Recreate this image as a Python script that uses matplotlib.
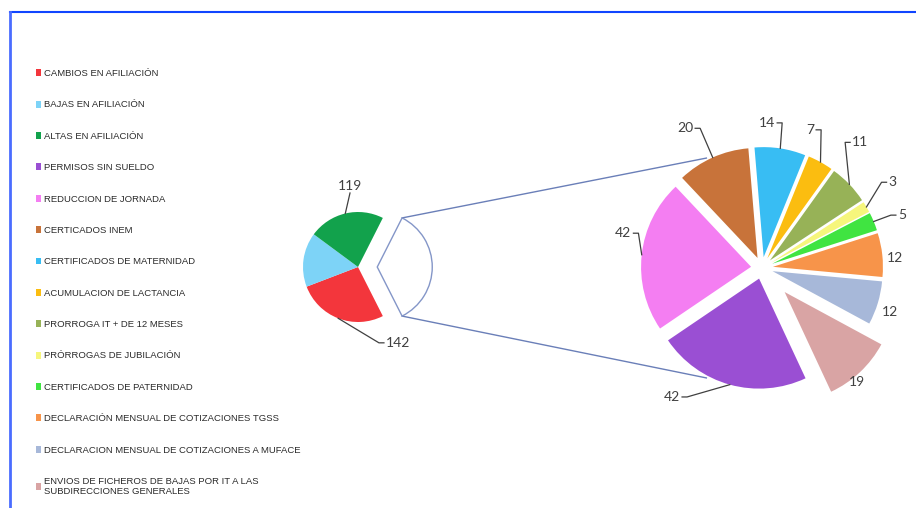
import numpy as np
import matplotlib.pyplot as plt

plt.rcParams['font.family'] = ['Liberation Sans', 'DejaVu Sans']

# ---------------------------------------------------------------- data
main_labels = ['CAMBIOS EN AFILIACIÓN', 'BAJAS EN AFILIACIÓN', 'ALTAS EN AFILIACIÓN']
main_values = [142, 85, 119]
main_colors = ['#f3363c', '#7dd3f7', '#12a24c']
main_show = [True, False, True]

sub_labels = ['PERMISOS SIN SUELDO', 'REDUCCION DE JORNADA', 'CERTICADOS INEM',
              'CERTIFICADOS DE MATERNIDAD', 'ACUMULACION DE LACTANCIA',
              'PRORROGA IT + DE 12 MESES', 'PRÓRROGAS DE JUBILACIÓN',
              'CERTIFICADOS DE PATERNIDAD', 'DECLARACIÓN MENSUAL DE COTIZACIONES TGSS',
              'DECLARACION MENSUAL DE COTIZACIONES A MUFACE',
              'ENVIOS DE FICHEROS DE BAJAS POR IT A LAS\nSUBDIRECCIONES GENERALES']
sub_values = [42, 42, 20, 14, 7, 11, 3, 5, 12, 12, 19]
sub_colors = ['#9a4fd3', '#f47ef2', '#c8733a', '#38bdf3', '#fbbd10', '#97b257',
              '#f6f67c', '#40e441', '#f7944a', '#a7b8d9', '#d9a4a4']
sub_explode = [0.1, 0.1, 0.1, 0.1, 0.1, 0.1, 0.1, 0.1, 0.1, 0.1, 0.3]

# label placement: (angle shift in degrees, distance as fraction of radius)
main_lab = [(49, 1.56), (0, 1.2), (-7.7, 1.48)]
sub_lab = [(-19.5, 1.43), (-7.8, 1.30), (4.8, 1.45), (6.7, 1.32), (9.7, 1.33),
           (8.2, 1.45), (3.0, 1.42), (-1.9, 1.36), (-2.0, 1.21), (-2.0, 1.23),
           (-3.5, 1.35)]

# ---------------------------------------------------------------- layout
W, H = 916, 508
fig = plt.figure(figsize=(W / 100, H / 100), dpi=100)
ax = fig.add_axes([0, 0, 1, 1])

c1, r1 = (358, 241), 55
c2, r2 = (762, 240), 110
lab_color = '#404040'

other = sum(sub_values)
vals = main_values + [other]
start = -other / sum(vals) * 360 / 2

w1, _ = ax.pie(vals, colors=main_colors + ['white'], startangle=start,
               counterclock=False, radius=r1, center=c1,
               explode=[0, 0, 0, 0.35 * r1])
w_other = w1[3]
w_other.set_facecolor('none')
w_other.set_edgecolor('#8496c8')
w_other.set_linewidth(1)

w2, _ = ax.pie(sub_values, colors=sub_colors, startangle=-65,
               counterclock=False, radius=r2, center=c2,
               explode=np.array(sub_explode) * r2)

ax.set_xlim(0, W)
ax.set_ylim(0, H)
ax.set_aspect('equal')
ax.axis('off')

leaders = []


def put_label(w, val, pc, R, expl, shift, f):
    tm = np.deg2rad((w.theta1 + w.theta2) / 2)
    edge = (w.center[0] + w.r * np.cos(tm), w.center[1] + w.r * np.sin(tm))
    ta = tm + np.deg2rad(shift)
    txt = (pc[0] + f * R * np.cos(ta), pc[1] + f * R * np.sin(ta))
    t = ax.text(txt[0], txt[1], str(val), ha='center', va='center',
                fontsize=10, color=lab_color, family=['Lato', 'DejaVu Sans'])
    if f - (1 + expl) > 0.15:
        leaders.append((t, edge))


for w, v, s, (sh, f) in zip(w1[:3], main_values, main_show, main_lab):
    if s:
        put_label(w, v, c1, r1, 0, sh, f)
for w, v, e, (sh, f) in zip(w2, sub_values, sub_explode, sub_lab):
    put_label(w, v, c2, r2, e, sh, f)

# leader lines: short horizontal stub at the label, then straight to the slice
fig.canvas.draw()
rend = fig.canvas.get_renderer()
for t, (ex, ey) in leaders:
    bb = t.get_window_extent(rend).transformed(ax.transData.inverted())
    tx, ty = t.get_position()
    hw = bb.width / 2
    if abs(ex - tx) < hw:
        y0 = bb.y0 - 1 if ey < ty else bb.y1 + 1
        ax.plot([tx, ex], [y0, ey], color=lab_color, lw=0.9)
    else:
        side = 1 if ex > tx else -1
        x0 = tx + side * (hw + 2)
        x1 = x0 + side * 5
        ax.plot([x0, x1, ex], [ty, ty, ey], color=lab_color, lw=0.9)

# connector lines between the two pies
for t in (w_other.theta1, w_other.theta2):
    a = np.deg2rad(t)
    b = np.deg2rad(180 - t)
    x0 = w_other.center[0] + r1 * np.cos(a)
    y0 = w_other.center[1] + r1 * np.sin(a)
    x1 = c2[0] + r2 * 1.12 * np.cos(b)
    y1 = c2[1] + r2 * 1.12 * np.sin(b)
    ax.plot([x0, x1], [y0, y1], color='#6a7fb8', lw=1, zorder=0)

# legend
ax.legend(list(w1[:3]) + list(w2), main_labels + sub_labels, loc='upper left',
          bbox_to_anchor=(36 / W, 1 - 69 / H), bbox_transform=fig.transFigure,
          frameon=False, fontsize=6.8, labelspacing=2.37, handlelength=0.55,
          handleheight=0.75, handletextpad=0.25, borderpad=0, borderaxespad=0,
          labelcolor='#2a2a2a')

# blue frame
ax.plot([10, W], [H - 12, H - 12], color='#1045ff', lw=1.5, clip_on=False)
ax.plot([10, 10], [0, H - 12], color='#4a6cff', lw=2, clip_on=False)

fig.savefig('out.png', dpi=100)
